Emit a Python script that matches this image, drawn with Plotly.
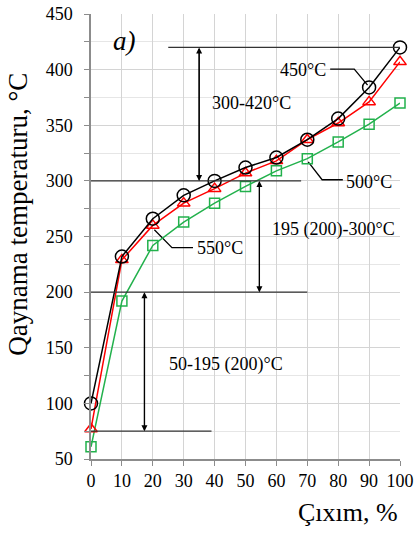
import plotly.graph_objects as go

x_vals = [0, 10, 20, 30, 40, 50, 60, 70, 80, 90, 100]
t450 = [100, 232, 266, 287, 300, 312, 321, 337, 356, 384, 420]
t500 = [77, 229, 260, 280, 293, 307, 318, 337, 352, 371, 407]
t550 = [61, 192, 242, 263, 280, 295, 309, 320, 335, 351, 370]

FONT = "Liberation Serif"

fig = go.Figure()

# range lines (horizontal) and arrows
hlines = [(25, 100, 420), (-1.5, 68, 300), (0, 70, 200), (0, 39, 75)]
for x0, x1, yv in hlines:
    fig.add_shape(type="line", x0=x0, x1=x1, y0=yv, y1=yv, xref="x", yref="y",
                  line=dict(color="#333333", width=1.3))

arrows = [(35, 420, 300), (54.5, 300, 200), (17.3, 200, 75)]
for xa, ytop, ybot in arrows:
    fig.add_annotation(x=xa, y=ybot, ax=xa, ay=ytop, xref="x", yref="y", axref="x", ayref="y",
                       showarrow=True, arrowhead=2, arrowsize=1, arrowwidth=1.2, arrowcolor="black", text="")
    fig.add_annotation(x=xa, y=ytop, ax=xa, ay=ybot, xref="x", yref="y", axref="x", ayref="y",
                       showarrow=True, arrowhead=2, arrowsize=1, arrowwidth=1.2, arrowcolor="black", text="")

# leader lines
leaders = [
    ([77.4, 85.2, 89.5], [400.5, 400.5, 386]),
    ([70.3, 74.8, 81.5], [317, 301, 301]),
    ([20.5, 26.2, 33], [256, 240, 240]),
]
for lx, ly in leaders:
    fig.add_trace(go.Scatter(x=lx, y=ly, mode="lines", line=dict(color="black", width=1.3),
                             showlegend=False, hoverinfo="skip"))

fig.add_trace(go.Scatter(x=x_vals, y=t550, mode="lines+markers",
                         line=dict(color="#22b14c", width=1.5),
                         marker=dict(symbol="square-open", size=10, color="#22b14c", line=dict(width=1.5)),
                         cliponaxis=False, showlegend=False))
fig.add_trace(go.Scatter(x=x_vals, y=t500, mode="lines+markers",
                         line=dict(color="#ff0000", width=1.5),
                         marker=dict(symbol="triangle-up-open", size=11, color="#ff0000", line=dict(width=1.5)),
                         cliponaxis=False, showlegend=False))
fig.add_trace(go.Scatter(x=x_vals, y=t450, mode="lines+markers",
                         line=dict(color="black", width=1.5),
                         marker=dict(symbol="circle-open", size=13, color="black", line=dict(width=1.5)),
                         cliponaxis=False, showlegend=False))

texts = [
    ("300-420°C", 38.5, 370, "left"),
    ("195 (200)-300°C", 58, 256, "left"),
    ("50-195 (200)°C", 24.5, 135, "left"),
    ("450°C", 76.8, 400, "right"),
    ("500°C", 82, 299, "left"),
    ("550°C", 33.5, 240, "left"),
]
for t, tx, ty, anc in texts:
    fig.add_annotation(x=tx, y=ty, xref="x", yref="y", text=t, showarrow=False,
                       xanchor=anc, yanchor="middle",
                       font=dict(family=FONT, size=18, color="black"))

fig.add_annotation(x=11, y=426, xref="x", yref="y", text="<i>a)</i>", showarrow=False,
                   font=dict(family=FONT, size=27, color="black"))

fig.add_annotation(x=1.0, y=-0.12, xref="paper", yref="paper", text="Çıxım, %",
                   showarrow=False, xanchor="right", yanchor="middle",
                   font=dict(family=FONT, size=26, color="black"))
fig.add_annotation(x=-0.235, y=0.55, xref="paper", yref="paper", text="Qaynama temperaturu, °C",
                   showarrow=False, textangle=-90, xanchor="center", yanchor="middle",
                   font=dict(family=FONT, size=27, color="black"))

fig.update_xaxes(range=[0, 100], tickvals=list(range(0, 101, 10)), showgrid=True,
                 gridcolor="#d4d4d4", gridwidth=1, showline=True, linecolor="#8c8c8c", linewidth=1.5,
                 ticks="outside", ticklen=5, tickcolor="#8c8c8c", zeroline=False,
                 automargin=False,
                 tickfont=dict(family=FONT, size=18, color="black"))
fig.update_yaxes(range=[50, 450], tickvals=list(range(50, 451, 50)), showgrid=True,
                 gridcolor="#d4d4d4", gridwidth=1, showline=True, linecolor="#8c8c8c", linewidth=1.5,
                 ticks="outside", ticklen=5, tickcolor="#8c8c8c", zeroline=False,
                 automargin=False, ticklabelstandoff=8,
                 minor=dict(tickvals=list(range(75, 451, 50)), showgrid=True, gridcolor="#e6e6e6",
                            ticks="outside", ticklen=5, tickcolor="#8c8c8c"),
                 tickfont=dict(family=FONT, size=18, color="black"))

fig.update_layout(width=414, height=533, margin=dict(l=91, r=14, t=14, b=74, autoexpand=False),
                  plot_bgcolor="white", paper_bgcolor="white")

fig.write_html("out.html")
